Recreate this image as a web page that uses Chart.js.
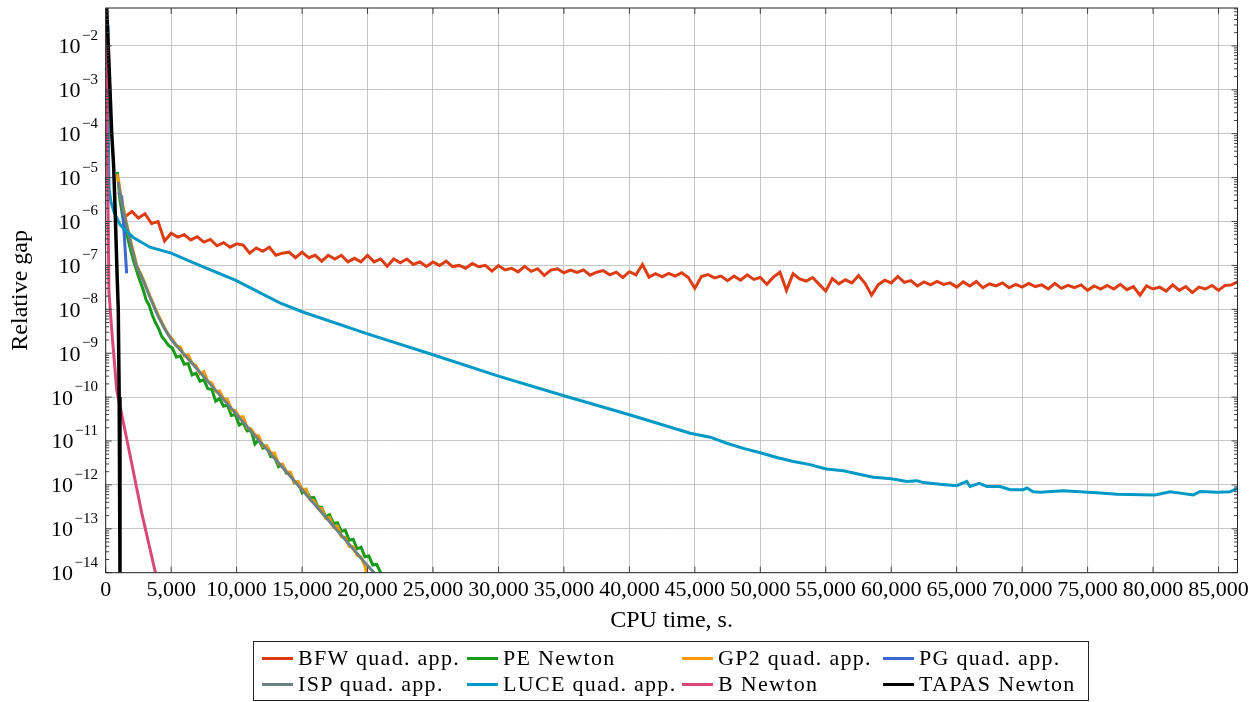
<!DOCTYPE html>
<html>
<head>
<meta charset="utf-8">
<script src="https://cdn.jsdelivr.net/npm/chart.js@4.4.1/dist/chart.umd.min.js"></script>
<style>
  html, body { margin: 0; padding: 0; background: #fff; }
  #wrap { position: relative; width: 1255px; height: 702px; }
  #legenda {
    position: absolute; left: 253px; top: 641px; width: 836px; height: 60px;
    box-sizing: border-box; border: 1px solid #222; padding: 3px 0 0 8px;
    display: grid; grid-template-columns: 205px 215px 201px 1fr; grid-auto-rows: 26px;
    font-family: "Liberation Serif", serif; font-size: 22px; letter-spacing: 1.3px; color: #000;
  }
  .item { display: flex; align-items: center; white-space: nowrap; }
  .linha { display: inline-block; width: 31px; height: 3px; margin-right: 5px; }
</style>
</head>
<body>
<div id="wrap">
  <canvas id="grafico" width="1255" height="702"></canvas>
  <div id="legenda"></div>
</div>
<script>
// marcas dos eixos
const xTickValues = [0, 5000, 10000, 15000, 20000, 25000, 30000, 35000, 40000, 45000,
  50000, 55000, 60000, 65000, 70000, 75000, 80000, 85000];
const yTickExp = [-14, -13, -12, -11, -10, -9, -8, -7, -6, -5, -4, -3, -2];

// BFW: amostrado a cada 500 s a partir de 1500 s
const bfwInicio = 1500;
const bfwPasso = 500;
const bfwGap = [
  1.3e-6, 1.7e-6, 1.2e-6, 1.5e-6, 9.0e-7, 1.0e-6, 3.6e-7, 5.4e-7, 4.4e-7, 5.0e-7,
  3.8e-7, 4.5e-7, 3.4e-7, 3.9e-7, 2.8e-7, 3.3e-7, 2.6e-7, 3.1e-7, 2.9e-7, 1.9e-7,
  2.5e-7, 2.1e-7, 2.6e-7, 1.7e-7, 1.9e-7, 2.0e-7, 1.5e-7, 2.0e-7, 1.5e-7, 1.7e-7,
  1.25e-7, 1.7e-7, 1.4e-7, 1.7e-7, 1.2e-7, 1.45e-7, 1.2e-7, 1.7e-7, 1.2e-7, 1.4e-7,
  9.6e-8, 1.4e-7, 1.15e-7, 1.4e-7, 1.05e-7, 1.2e-7, 9.5e-8, 1.2e-7, 1.0e-7, 1.25e-7,
  9.4e-8, 1.0e-7, 8.6e-8, 1.1e-7, 9.3e-8, 1.0e-7, 7.4e-8, 9.9e-8, 7.9e-8, 8.6e-8,
  7.1e-8, 9.5e-8, 7.3e-8, 8.4e-8, 5.9e-8, 7.8e-8, 8.4e-8, 6.8e-8, 7.8e-8, 6.9e-8,
  7.9e-8, 6.0e-8, 7.0e-8, 7.6e-8, 6.1e-8, 7.0e-8, 5.3e-8, 7.2e-8, 6.1e-8, 1.05e-7,
  5.4e-8, 6.5e-8, 5.5e-8, 6.6e-8, 5.7e-8, 6.8e-8, 5.3e-8, 3.0e-8, 5.6e-8, 6.2e-8,
  5.2e-8, 5.7e-8, 4.5e-8, 5.7e-8, 4.6e-8, 6.1e-8, 4.8e-8, 5.3e-8, 3.7e-8, 5.4e-8,
  7.0e-8, 2.7e-8, 6.5e-8, 4.9e-8, 4.4e-8, 5.3e-8, 3.7e-8, 2.6e-8, 5.0e-8, 3.8e-8,
  4.7e-8, 4.0e-8, 5.9e-8, 3.9e-8, 2.1e-8, 3.6e-8, 4.6e-8, 4.0e-8, 5.6e-8, 4.1e-8,
  4.5e-8, 3.4e-8, 4.2e-8, 3.6e-8, 4.3e-8, 3.7e-8, 4.0e-8, 3.2e-8, 4.2e-8, 3.4e-8,
  4.3e-8, 3.1e-8, 3.8e-8, 3.4e-8, 4.0e-8, 3.1e-8, 3.7e-8, 3.2e-8, 3.9e-8, 3.3e-8,
  3.6e-8, 2.9e-8, 3.9e-8, 3.0e-8, 3.5e-8, 3.1e-8, 3.6e-8, 2.7e-8, 3.4e-8, 2.9e-8,
  3.5e-8, 2.9e-8, 3.7e-8, 2.8e-8, 3.3e-8, 2.1e-8, 3.4e-8, 2.9e-8, 3.2e-8, 2.6e-8,
  3.6e-8, 2.7e-8, 3.3e-8, 2.4e-8, 3.2e-8, 2.9e-8, 3.5e-8, 2.7e-8, 3.5e-8, 3.6e-8,
  4.3e-8
];
const bfwTempo = bfwGap.map((_, i) => bfwInicio + i * bfwPasso);

const peTempo = [886, 1000, 1090, 1300, 1600, 1850, 2110, 2500, 2870, 3100, 3300, 3550, 3800, 4050, 4280, 4500, 4800,
  5100, 5400, 5700, 6000, 6300, 6600, 6900, 7200, 7500, 7800, 8100, 8400, 8700, 9000, 9300, 9600, 9900, 10200,
  10500, 10800, 11100, 11400, 11700, 12000, 12300, 12600, 12900, 13200, 13500, 13800, 14100, 14400, 14700, 15000,
  15300, 15600, 15900, 16200, 16500, 16800, 17100, 17400, 17700, 18000, 18300, 18600, 18900, 19200, 19500, 19800,
  20100, 20400, 20700, 21000, 21300];
const peGap = [1.35e-5, 6.3e-6, 3.1e-6, 1.26e-6, 5.4e-7, 2.6e-7, 1.32e-7, 5.6e-8, 2.75e-8, 1.6e-8, 1.26e-8, 7.5e-9,
  5.0e-9, 3.6e-9, 2.4e-9, 2.0e-9, 1.5e-9,
  1.29e-9, 8.1e-10, 8.7e-10, 5.6e-10, 5.8e-10, 3.2e-10, 3.5e-10, 2.3e-10, 2.5e-10, 1.55e-10,
  1.5e-10, 8.1e-11, 9.3e-11, 6.2e-11, 6.6e-11, 3.8e-11, 4.0e-11, 2.3e-11, 2.6e-11, 1.7e-11,
  1.74e-11, 8.5e-12, 1.07e-11, 6.9e-12, 7.4e-12, 4.4e-12, 4.3e-12, 2.6e-12, 2.9e-12, 1.86e-12,
  1.9e-12, 1.12e-12, 1.17e-12, 6.6e-13, 7.8e-13, 5.1e-13, 5.2e-13, 3.2e-13, 3.1e-13, 1.86e-13,
  2.1e-13, 1.32e-13, 1.38e-13, 8.7e-14, 9.3e-14, 5.5e-14, 5.8e-14, 3.5e-14, 3.8e-14, 2.3e-14,
  2.4e-14, 1.5e-14, 1.55e-14, 1.0e-14, 8.5e-15];

const gp2Tempo = [850, 1000, 1150, 1400, 1700, 2000, 2370, 2870, 3380, 4000, 4500, 4800,
  5100, 5400, 5700, 6000, 6300, 6600, 6900, 7200, 7500, 7800, 8100, 8400, 8700, 9000, 9300, 9600, 9900, 10200,
  10500, 10800, 11100, 11400, 11700, 12000, 12300, 12600, 12900, 13200, 13500, 13800, 14100, 14400, 14700, 15000,
  15300, 15600, 15900, 16200, 16500, 16800, 17100, 17400, 17700, 18000, 18300, 18600, 18900, 19200, 19500, 19800,
  20100];
const gp2Gap = [1.2e-5, 8e-6, 4e-6, 1.7e-6, 6.5e-7, 2.8e-7, 1.0e-7, 4.8e-8, 2.0e-8, 7.5e-9, 3.8e-9, 2.6e-9,
  2.1e-9, 1.45e-9, 1.4e-9, 8.7e-10, 9.3e-10, 5.9e-10, 5.2e-10, 3.4e-10, 3.8e-10, 2.3e-10,
  2.1e-10, 1.35e-10, 1.38e-10, 9.1e-11, 8.9e-11, 5.1e-11, 5.0e-11, 3.5e-11, 3.6e-11, 2.0e-11,
  1.9e-11, 1.38e-11, 1.3e-11, 7.6e-12, 7.8e-12, 5.4e-12, 5.3e-12, 3.0e-12, 2.95e-12, 2.0e-12,
  1.95e-12, 1.15e-12, 1.2e-12, 8.1e-13, 7.9e-13, 4.6e-13, 4.4e-13, 3.0e-13, 2.9e-13, 1.74e-13,
  1.8e-13, 1.1e-13, 1.15e-13, 6.6e-14, 6.3e-14, 4.0e-14, 3.9e-14, 2.5e-14, 2.3e-14, 1.4e-14,
  6e-15];

const pgTempo = [960, 1220, 1400, 1600];
const pgGap = [4.6e-6, 3.7e-6, 6e-7, 6.6e-8];

const ispTempo = [950, 1150, 1400, 1700, 2000, 2370, 2870, 3380, 4000, 4500, 5040, 6000, 7000, 8000,
  10000, 12000, 14000, 16000, 18000, 20000, 20500, 21000];
const ispGap = [8e-6, 3.5e-6, 1.5e-6, 6e-7, 2.5e-7, 9.5e-8, 4.5e-8, 1.9e-8, 7e-9, 3.6e-9, 2e-9, 9.3e-10, 4.3e-10,
  1.95e-10, 4.0e-11, 8.2e-12, 1.7e-12, 3.5e-13, 7.1e-14, 1.45e-14, 1e-14, 6.8e-15];

const luceTempo = [100, 170, 220, 260, 400, 650, 1090, 2110, 3380, 5000, 6850, 9900, 13300, 15000, 20000,
  25000, 30000, 35000, 40000, 44650, 46170, 47440, 48710, 50010, 51260, 52530, 53800, 55030, 56350, 57370,
  58640, 60010, 61190, 61950, 62460, 63730, 65000, 65770, 66020, 66730, 67300, 68320, 69080, 70100, 70360,
  70840, 71370, 73130, 75960, 77260, 80160, 81310, 82070, 83070, 83600, 84900, 85900, 86480];
const luceGap = [3e-2, 3e-3, 2e-5, 5.5e-6, 2.8e-6, 1.6e-6, 8.5e-7, 4.3e-7, 2.6e-7, 1.9e-7,
  1.1e-7, 4.6e-8, 1.4e-8, 8.8e-9, 2.75e-9, 9.2e-10, 3.0e-10, 1.07e-10, 3.95e-11, 1.5e-11,
  1.22e-11, 8.9e-12, 6.8e-12, 5.4e-12, 4.2e-12, 3.4e-12, 2.9e-12, 2.3e-12, 2.1e-12, 1.8e-12,
  1.5e-12, 1.38e-12, 1.2e-12, 1.25e-12, 1.13e-12, 1.03e-12, 9.6e-13, 1.2e-12, 9.2e-13, 1.08e-12,
  9.2e-13, 9.2e-13, 7.8e-13, 7.8e-13, 8.5e-13, 7.0e-13, 6.8e-13, 7.4e-13, 6.5e-13, 6.1e-13,
  5.9e-13, 7.0e-13, 6.5e-13, 5.9e-13, 7.1e-13, 6.8e-13, 7.0e-13, 8.4e-13];

const bTempo = [0, 70, 130, 250, 460, 840, 1730, 2750, 3800, 4000];
const bGap = [5e-2, 2e-2, 4e-5, 2.5e-8, 3.4e-9, 1.45e-10, 7.4e-12, 2.3e-13, 1e-14, 5e-15];

const tapasTempo = [0, 80, 250, 460, 600, 730, 880, 960, 1030, 1090, 1110];
const tapasGap = [0.12, 0.066, 4e-3, 1e-4, 2e-5, 1.5e-6, 5e-8, 1e-8, 1e-10, 1e-14, 1e-15];

const series = [
  { nome: 'BFW quad. app.', tempo: bfwTempo, gap: bfwGap, cor: '#dd3d12' },
  { nome: 'PE Newton', tempo: peTempo, gap: peGap, cor: '#1a9a1a' },
  { nome: 'GP2 quad. app.', tempo: gp2Tempo, gap: gp2Gap, cor: '#ff9a00' },
  { nome: 'PG quad. app.', tempo: pgTempo, gap: pgGap, cor: '#3868d0' },
  { nome: 'ISP quad. app.', tempo: ispTempo, gap: ispGap, cor: '#6f8282' },
  { nome: 'LUCE quad. app.', tempo: luceTempo, gap: luceGap, cor: '#0099c6' },
  { nome: 'B Newton', tempo: bTempo, gap: bGap, cor: '#d9487a' },
  { nome: 'TAPAS Newton', tempo: tapasTempo, gap: tapasGap, cor: '#000000' }
];

const fonte = '"Liberation Serif", serif';

// moldura, marcas menores e rotulos 10^-n
const moldura = {
  id: 'moldura',
  afterDraw(chart) {
    const { ctx, chartArea: a, scales: { x, y } } = chart;
    ctx.save();
    ctx.strokeStyle = '#444';
    ctx.lineWidth = 1;
    ctx.beginPath();
    for (let e = -15; e <= -1; e++) {
      for (let k = 1; k <= 9; k++) {
        const v = k * Math.pow(10, e);
        if (v < y.min || v > y.max) continue;
        const py = y.getPixelForValue(v);
        const len = k === 1 ? 6 : 3.5;
        ctx.moveTo(a.left, py); ctx.lineTo(a.left + len, py);
        ctx.moveTo(a.right, py); ctx.lineTo(a.right - len, py);
      }
    }
    x.ticks.forEach(t => {
      const px = x.getPixelForValue(t.value);
      ctx.moveTo(px, a.bottom); ctx.lineTo(px, a.bottom - 6);
      ctx.moveTo(px, a.top); ctx.lineTo(px, a.top + 6);
    });
    ctx.stroke();
    ctx.strokeStyle = '#262626';
    ctx.strokeRect(a.left, a.top, a.right - a.left, a.bottom - a.top);

    ctx.fillStyle = '#000';
    ctx.textAlign = 'right';
    ctx.textBaseline = 'alphabetic';
    yTickExp.forEach(e => {
      const py = y.getPixelForValue(Math.pow(10, e));
      const expo = '\u2212' + Math.abs(e);
      ctx.font = '15px ' + fonte;
      const w = ctx.measureText(expo).width;
      ctx.fillText(expo, 98, py - 6);
      ctx.font = '22px ' + fonte;
      ctx.fillText('10', 98 - w - 1.5, py + 7.5);
    });
    ctx.restore();
  }
};

const grafico = new Chart(document.getElementById('grafico').getContext('2d'), {
  type: 'line',
  data: {
    datasets: series.map((s, i) => ({
      label: s.nome,
      data: s.tempo.map((t, j) => ({ x: t, y: s.gap[j] })),
      borderColor: s.cor,
      backgroundColor: s.cor,
      borderWidth: s.nome === 'TAPAS Newton' ? 3.5 : 3,
      pointRadius: 0,
      tension: 0,
      fill: false,
      order: series.length - 1 - i
    }))
  },
  options: {
    responsive: false,
    animation: false,
    events: [],
    layout: { padding: { top: 8, right: 17.5, bottom: 65.3, left: 0 } },
    plugins: { legend: { display: false }, tooltip: { enabled: false } },
    scales: {
      x: {
        type: 'linear', min: 0, max: 86450,
        afterFit: s => { s.height = 64; },
        afterBuildTicks: s => { s.ticks = xTickValues.map(v => ({ value: v })); },
        grid: { color: '#c6c6c6', lineWidth: 1, drawTicks: false },
        border: { display: false },
        ticks: {
          autoSkip: false, maxRotation: 0, padding: 4,
          color: '#000', font: { family: fonte, size: 22 },
          callback: v => v.toLocaleString('en-US')
        },
        title: { display: true, text: 'CPU time, s.', color: '#000', font: { family: fonte, size: 24 }, padding: { top: 0, bottom: 2 } }
      },
      y: {
        type: 'logarithmic', min: 1e-14, max: 0.073,
        afterFit: s => { s.width = 105.7; },
        afterBuildTicks: s => { s.ticks = yTickExp.map(e => ({ value: Math.pow(10, e) })); },
        grid: { color: '#c6c6c6', lineWidth: 1, drawTicks: false },
        border: { display: false },
        ticks: { display: false },
        title: { display: true, text: 'Relative gap', color: '#000', font: { family: fonte, size: 24 }, padding: { top: 6, bottom: 0 } }
      }
    }
  },
  plugins: [moldura]
});

// legenda em grade 4 x 2
const legenda = document.getElementById('legenda');
grafico.data.datasets.forEach(ds => {
  legenda.innerHTML += `<div class="item"><span class="linha" style="background:${ds.borderColor}"></span>${ds.label}</div>`;
});
</script>
</body>
</html>
